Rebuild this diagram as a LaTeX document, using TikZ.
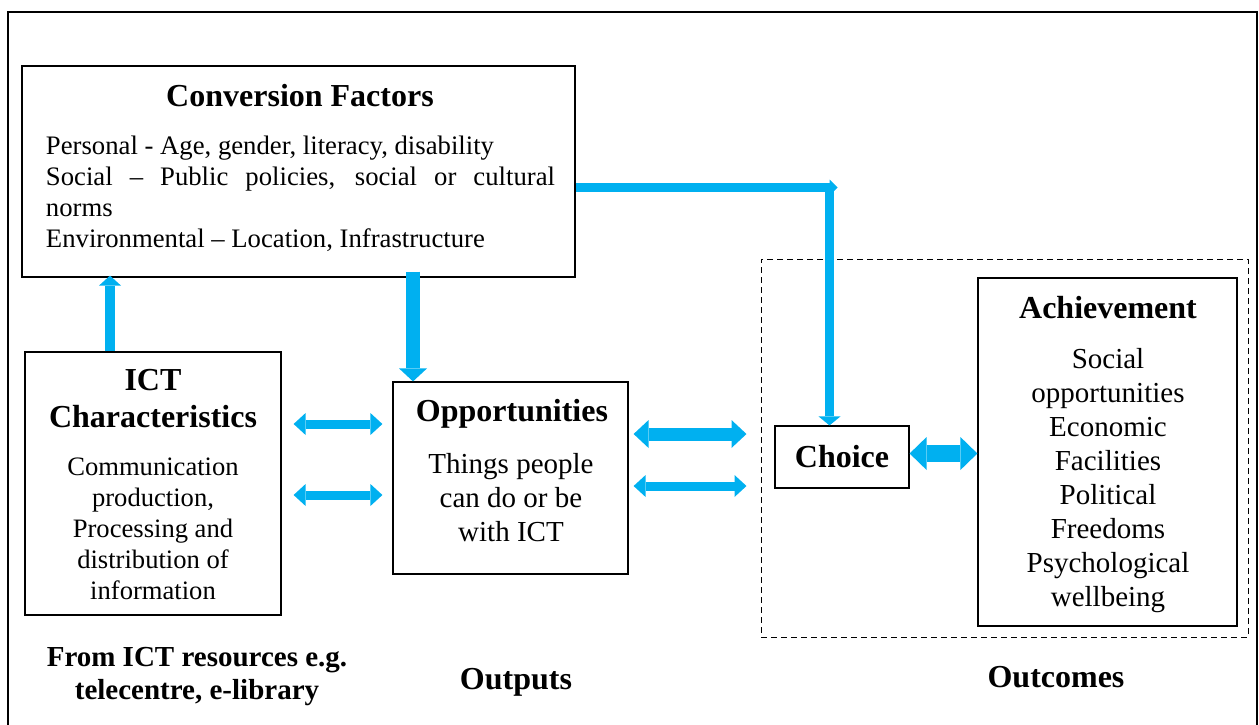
\documentclass[tikz,border=0pt]{standalone}
\usepackage{fontspec}
\setmainfont{Liberation Serif}
\usetikzlibrary{arrows.meta}
\definecolor{flowblue}{RGB}{0,176,240}
\newcommand{\headfont}{\fontsize{16}{18.5}\selectfont\bfseries}
\newcommand{\bodyfont}{\fontsize{13.3}{15.5}\selectfont}
\newcommand{\listfont}{\fontsize{14.5}{17}\selectfont}
\tikzset{
  box/.style={draw, line width=0.6pt, inner sep=0pt},
  oneway/.style n args={3}{draw=flowblue, line width=#1,
    arrows={-Triangle[width=#2,length=#3,line width=0pt,fill=flowblue]}},
  twoway/.style n args={3}{draw=flowblue, line width=#1,
    arrows={Triangle[width=#2,length=#3,line width=0pt,fill=flowblue]-Triangle[width=#2,length=#3,line width=0pt,fill=flowblue]}}
}
\begin{document}
\begin{tikzpicture}[x=0.5pt, y=-0.5pt]
				\useasboundingbox (0,0) rectangle (1259,724);
				% Frame
				\draw[line width=1pt] (8,12) rectangle (1257,760);

				% Conversion factors
				\node[box, minimum width=276.5pt, minimum height=105.5pt] (conv) at (298.5,171.5) {};
				\node[font=\headfont] (convtitle) at (300,96) {Conversion Factors};
				\node[font=\fontsize{13.35}{15.5}\selectfont, text width=254.5pt, align=justify, inner sep=0pt] (convtext) at (300.5,194) {Personal - Age, gender, literacy, disability\par Social – Public policies, social or cultural\linebreak norms\par Environmental – Location, Infrastructure};

				% ICT characteristics
				\node[box, minimum width=128pt, minimum height=131.5pt] (ict) at (153,483.5) {};
				\node[font=\headfont, align=center] (icttitle) at (153,398.5) {ICT\\Characteristics};
				\node[font=\bodyfont, align=center] (icttext) at (153,529) {Communication\\production,\\Processing and\\distribution of\\information};

				% Opportunities
				\node[box, minimum width=117.5pt, minimum height=96pt] (opp) at (510.5,478) {};
				\node[font=\headfont] (opptitle) at (512,414) {Opportunities};
				\node[font=\listfont, align=center] (opptext) at (511,497.5) {Things people\\can do or be\\with ICT};

				% Outcomes
				\node[draw, densely dashed, line width=0.5pt, minimum width=243.5pt, minimum height=189pt] (outc) at (1004.5,448) {};
				\node[box, minimum width=67pt, minimum height=31pt, font=\headfont] (choice) at (842,457) {Choice};
				\node[box, minimum width=129.5pt, minimum height=174pt] (ach) at (1107.5,452) {};
				\node[font=\headfont] (achtitle) at (1108,308) {Achievement};
				\node[font=\listfont, align=center] (achtext) at (1108,481) {Social\\opportunities\\Economic\\Facilities\\Political\\Freedoms\\Psychological\\wellbeing};

				% Labels
				\node[font=\bfseries\fontsize{14.5}{16.5}\selectfont, align=center] (source) at (197,677) {From ICT resources e.g.\\telecentre, e-library};
				\node[font=\headfont] (outputs) at (516,682) {Outputs};
				\node[font=\headfont] (outcomes) at (1056,677) {Outcomes};

				% Arrows
				\coordinate (upx) at (110,0);
				\coordinate (downx) at (413,0);
				\coordinate (bend) at (829.5,187.5);
				\coordinate (linka) at (0,424);
				\coordinate (linkb) at (0,495);
				\coordinate (linkc) at (0,434);
				\coordinate (linkd) at (0,486);
				\coordinate (linke) at (0,453.5);
				\draw[oneway={5pt}{11pt}{5pt}] (ict.north -| upx) -- ([yshift=1pt]conv.south -| upx);
				\draw[oneway={7pt}{14pt}{6.5pt}] ([yshift=3pt]conv.south -| downx) -- (opp.north -| downx);
				\draw[oneway={4.5pt}{8pt}{4pt}] (conv.east |- bend) -- ([xshift=4pt]bend);
				\draw[oneway={4.5pt}{11pt}{4.5pt}] (bend) -- (choice.north -| bend);
				\draw[twoway={4.5pt}{11pt}{6pt}, shorten <=6pt, shorten >=5pt] (ict.east |- linka) -- (opp.west |- linka);
				\draw[twoway={4.5pt}{11pt}{6pt}, shorten <=6pt, shorten >=5pt] (ict.east |- linkb) -- (opp.west |- linkb);
				\draw[twoway={6.5pt}{14pt}{7.5pt}, shorten <=2.5pt, shorten >=7pt] (opp.east |- linkc) -- (outc.west |- linkc);
				\draw[twoway={4.5pt}{11pt}{6pt}, shorten <=2.5pt, shorten >=7pt] (opp.east |- linkd) -- (outc.west |- linkd);
				\draw[twoway={8.5pt}{16.5pt}{8.5pt}] (choice.east |- linke) -- (ach.west |- linke);
			\end{tikzpicture}
\end{document}
